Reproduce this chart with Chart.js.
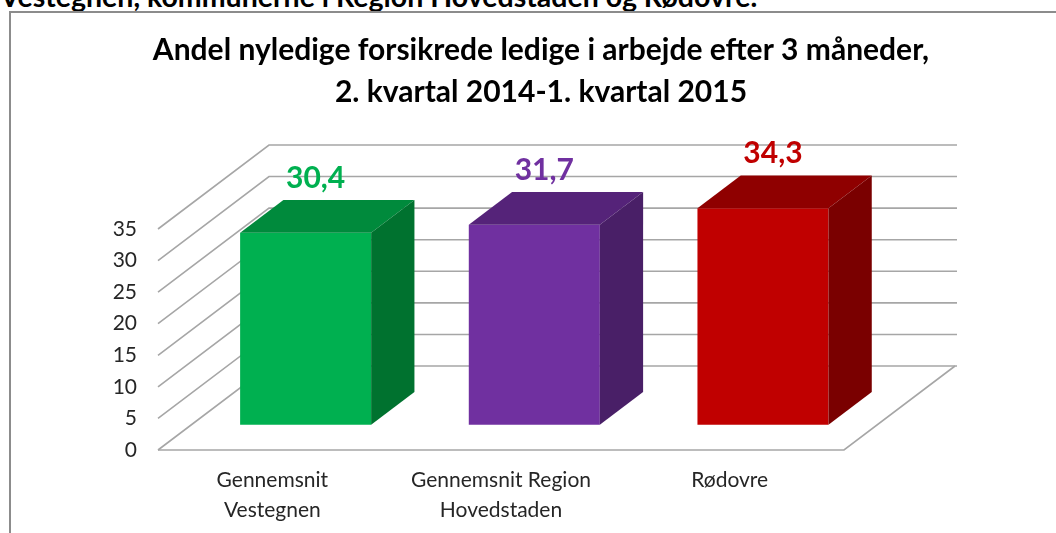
<!DOCTYPE html>
<html>
<head>
<meta charset="utf-8">
<script src="https://cdn.jsdelivr.net/npm/chart.js@4"></script>
<style>
  body { margin: 0; background: #fff; overflow: hidden; }
  #heading { position: absolute; left: 0; top: -21px; font: bold 28.5px Lato, sans-serif; color: #000; white-space: nowrap; }
  #frame { position: absolute; left: 9px; top: 11px; width: 1100px; height: 600px; border: 2px solid #8c8c8c; }
  #wrap { position: absolute; left: 0; top: 0; width: 1056px; height: 533px; }
</style>
</head>
<body>
<div id="heading">Vestegnen, kommunerne i Region Hovedstaden og Rødovre.</div>
<div id="frame"></div>
<div id="wrap"><canvas id="myChart"></canvas></div>
<script>
var categories = [['Gennemsnit', 'Vestegnen'], ['Gennemsnit Region', 'Hovedstaden'], 'Rødovre'];
var values = [30.4, 31.7, 34.3];
var frontColors = ['#00b050', '#7030a0', '#c00000'];
var topColors = ['#008a3c', '#552379', '#8f0000'];
var sideColors = ['#00722f', '#491f67', '#7a0000'];
var yTicks = [0, 5, 10, 15, 20, 25, 30, 35];

// oblique depth of the whole floor, and where the bars sit in it
var depthX = 111, depthY = 84;
var barFront = 0.3, barBack = 0.69;

var box3d = {
  id: 'box3d',
  beforeDatasetsDraw: function(chart) {
    var ctx = chart.ctx;
    var y = chart.scales.y, x = chart.scales.x;
    var left = x.left, right = x.right;
    ctx.save();
    ctx.strokeStyle = '#a6a6a6';
    ctx.lineWidth = 1.6;
    yTicks.forEach(function(v) {
      var py = y.getPixelForValue(v);
      ctx.beginPath();
      ctx.moveTo(left, py);
      ctx.lineTo(left + depthX, py - depthY);
      ctx.lineTo(right + depthX + 2, py - depthY);
      ctx.stroke();
    });
    var py0 = y.getPixelForValue(0);
    ctx.beginPath();
    ctx.moveTo(left, py0);
    ctx.lineTo(right, py0);
    ctx.lineTo(right + depthX, py0 - depthY);
    ctx.stroke();
    ctx.restore();

    ctx.save();
    ctx.translate(depthX * barFront, -depthY * barFront);
  },
  afterDatasetsDraw: function(chart) {
    var ctx = chart.ctx;
    var dx = depthX * (barBack - barFront), dy = depthY * (barBack - barFront);
    chart.getDatasetMeta(0).data.forEach(function(bar, i) {
      var l = bar.x - bar.width / 2, r = bar.x + bar.width / 2;
      var t = bar.y, b = bar.base;
      ctx.fillStyle = topColors[i];
      ctx.beginPath();
      ctx.moveTo(l, t); ctx.lineTo(l + dx, t - dy); ctx.lineTo(r + dx, t - dy); ctx.lineTo(r, t);
      ctx.closePath(); ctx.fill();
      ctx.fillStyle = sideColors[i];
      ctx.beginPath();
      ctx.moveTo(r, t); ctx.lineTo(r + dx, t - dy); ctx.lineTo(r + dx, b - dy); ctx.lineTo(r, b);
      ctx.closePath(); ctx.fill();
      ctx.fillStyle = frontColors[i];
      ctx.font = 'bold 30px Lato, sans-serif';
      ctx.textAlign = 'center';
      ctx.textBaseline = 'middle';
      ctx.fillText(values[i].toFixed(1).replace('.', ','), bar.x + 10, t - dy - 22);
    });
    ctx.restore();
  }
};

var ctx = document.getElementById('myChart').getContext('2d');
var myChart = new Chart(ctx, {
  type: 'bar',
  data: {
    labels: categories,
    datasets: [{
      data: values,
      backgroundColor: frontColors,
      borderWidth: 0,
      barPercentage: 0.573,
      categoryPercentage: 1,
      clip: false
    }]
  },
  options: {
    responsive: true,
    maintainAspectRatio: false,
    animation: false,
    layout: { padding: { left: 26, right: 0, top: 0, bottom: 0 } },
    plugins: {
      legend: { display: false },
      tooltip: { enabled: false },
      title: {
        display: true,
        text: ['Andel nyledige forsikrede ledige i arbejde efter 3 måneder,', '2. kvartal 2014-1. kvartal 2015'],
        color: '#000',
        font: { family: 'Lato', size: 30, weight: 'bold', lineHeight: 1.4 },
        padding: { top: 29, bottom: 116 }
      }
    },
    scales: {
      x: {
        grid: { display: false, drawTicks: false },
        border: { display: false },
        ticks: { color: '#262626', font: { family: 'Lato', size: 21, lineHeight: 1.43 }, padding: 15, maxRotation: 0 },
        afterFit: function(scale) { scale.height = 83; }
      },
      y: {
        min: 0,
        max: 35,
        grid: { display: false, drawTicks: false },
        border: { display: false },
        ticks: { stepSize: 5, color: '#262626', font: { family: 'Lato', size: 21 }, padding: 21 },
        afterFit: function(scale) { scale.width = 132; }
      },
      side: {
        position: 'right',
        display: true,
        grid: { display: false, drawTicks: false },
        border: { display: false },
        ticks: { display: false },
        afterFit: function(scale) { scale.width = 212; }
      }
    }
  },
  plugins: [box3d]
});
</script>
</body>
</html>
